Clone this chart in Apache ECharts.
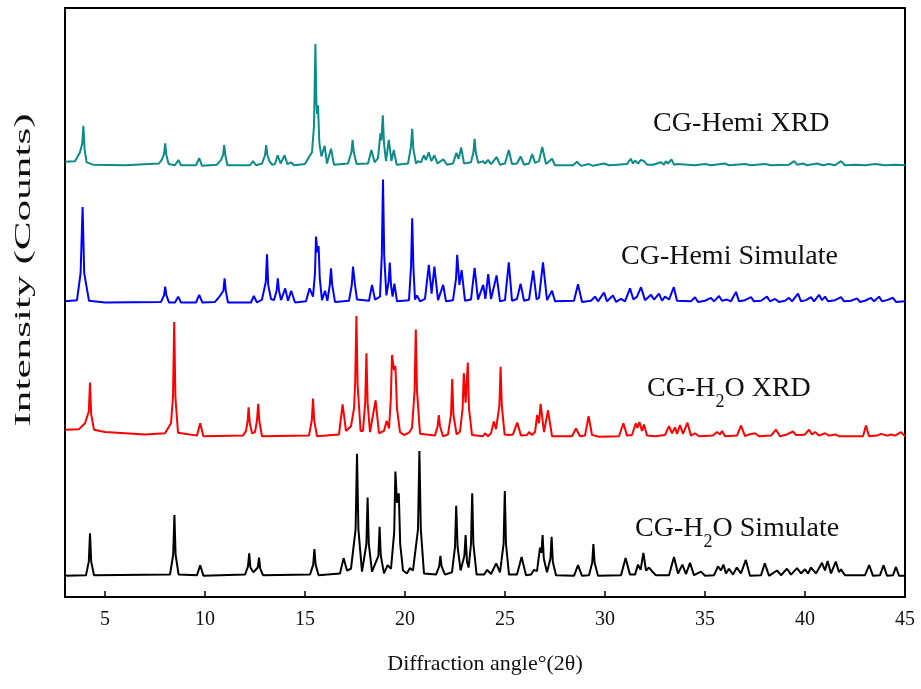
<!DOCTYPE html>
<html><head><meta charset="utf-8">
<script src="https://cdn.jsdelivr.net/npm/echarts@6/dist/echarts.min.js"></script>
<style>html,body{margin:0;padding:0;background:#fff}#c{width:921px;height:689px}</style>
</head><body><div id="c"></div>
<script>
// X tick labels
var xTicks = [5, 10, 15, 20, 25, 30, 35, 40, 45];
var seriesNames = ['CG-Hemi XRD', 'CG-Hemi Simulate', 'CG-H2O XRD', 'CG-H2O Simulate'];

// CG-H2O Simulate (black)
var h2oSim = [[3,3.6],[4.05,3.7],[4.19,6.0],[4.25,10.8],[4.31,6.0],[4.45,3.7],
[8.25,3.8],[8.41,7.2],[8.47,13.9],[8.53,7.2],[8.68,3.8],
[9.6,3.7],[9.76,5.4],[9.92,3.6],
[12.0,3.8],[12.15,5.2],[12.21,7.4],[12.27,5.0],[12.42,4.2],[12.64,5.0],[12.70,6.7],[12.76,4.8],[12.9,3.7],
[15.25,3.8],[15.41,5.5],[15.47,8.15],[15.53,5.5],[15.68,3.7],
[16.75,4.0],[16.93,6.6],[17.1,4.5],[17.3,4.8],[17.53,11.5],[17.6,24.3],[17.67,11.5],[17.85,4.3],
[18.07,9.0],[18.13,16.9],[18.19,9.0],[18.35,4.3],[18.67,7.0],[18.73,11.9],[18.79,7.0],[18.95,4.0],[19.13,5.4],[19.3,4.8],[19.46,11.0],[19.52,21.3],[19.6,16.0],[19.69,17.6],[19.76,9.0],[19.9,4.5],[20.1,4.0],[20.24,4.9],[20.4,4.5],[20.65,11.5],[20.72,24.8],[20.79,11.5],[20.95,4.0],
[21.55,3.8],[21.71,5.2],[21.77,7.0],[21.83,5.2],[22.0,3.8],
[22.35,4.2],[22.5,8.5],[22.56,15.5],[22.63,8.5],[22.78,4.5],[22.97,7.0],[23.03,10.5],[23.1,6.0],[23.18,5.0],[23.3,9.0],[23.36,17.6],[23.42,9.0],[23.58,3.8],
[23.95,3.8],[24.11,4.6],[24.3,3.9],[24.56,5.7],[24.75,4.2],[24.93,9.0],[24.99,18.0],[25.05,9.0],[25.2,3.8],
[25.6,3.8],[25.83,6.8],[26.05,3.7],[26.3,3.8],[26.45,4.6],[26.6,4.4],[26.75,8.4],[26.82,7.5],[26.88,10.5],[26.94,6.5],[27.1,4.2],[27.27,6.5],[27.33,10.2],[27.39,6.0],[27.55,3.7],
[28.45,3.6],[28.65,5.4],[28.85,3.6],
[29.2,3.7],[29.36,5.8],[29.42,9.0],[29.48,5.8],[29.65,3.6],
[30.8,3.7],[31.03,6.6],[31.25,3.8],[31.5,3.8],[31.65,5.5],[31.78,4.6],[31.92,7.5],[32.05,4.5],[32.2,5.0],[32.4,4.2],[32.55,3.7],
[33.2,3.7],[33.45,6.8],[33.65,4.0],[33.87,5.5],[34.05,3.9],[34.25,5.8],[34.45,3.7],[34.8,4.3],[35.0,3.6],
[35.45,3.7],[35.65,5.2],[35.8,4.5],[35.92,5.5],[36.05,4.0],[36.2,4.8],[36.4,3.8],[36.59,5.0],[36.8,4.0],[37.04,6.3],[37.25,3.6],
[37.8,3.7],[37.99,5.7],[38.2,3.6],[38.6,4.5],[38.8,3.7],[39.1,4.8],[39.3,3.8],[39.6,4.9],[39.8,4.0],[40.0,4.7],[40.15,4.0],[40.3,5.0],[40.55,4.0],[40.85,5.8],[41.0,4.5],[41.13,6.1],[41.3,4.0],[41.54,6.0],[41.7,4.2],[41.8,4.7],[42.0,3.7],
[43.0,3.7],[43.21,5.4],[43.4,3.6],[43.75,3.7],[43.93,5.4],[44.1,3.6],[44.4,3.7],[44.55,5.1],[44.7,3.6],[45,3.6]];

// CG-H2O XRD (red)
var h2oXrd = [[3,28.4],[3.7,28.5],[4.0,29.5],[4.19,31.5],[4.25,36.4],[4.31,31.0],[4.45,28.4],[5,28.0],[7,27.6],[8.0,27.8],[8.3,29.5],[8.4,34.0],[8.46,46.7],[8.52,34.0],[8.65,27.9],[9.6,27.4],[9.76,29.5],[9.92,27.3],
[11.9,27.4],[12.05,28.2],[12.13,29.8],[12.18,32.2],[12.24,29.5],[12.35,27.8],[12.5,28.0],[12.6,30.0],[12.66,32.8],[12.72,29.8],[12.85,27.3],
[15.2,27.4],[15.34,30.0],[15.4,33.7],[15.46,30.0],[15.6,27.3],
[16.7,27.6],[16.88,32.7],[17.05,28.2],[17.3,29.0],[17.45,32.0],[17.51,36.5],[17.57,47.7],[17.63,36.0],[17.78,28.2],[17.9,28.2],[18.01,33.0],[18.07,41.4],[18.13,33.0],[18.25,28.0],[18.35,27.9],[18.53,33.4],[18.7,27.8],[18.95,28.2],[19.08,29.9],[19.2,28.6],[19.29,33.5],[19.35,41.1],[19.45,38.5],[19.52,39.2],[19.6,32.0],[19.75,28.0],[19.95,27.5],[20.2,27.9],[20.35,28.7],[20.48,35.0],[20.54,45.4],[20.6,35.0],[20.75,27.7],
[21.5,27.4],[21.63,29.0],[21.69,30.9],[21.75,29.0],[21.9,27.3],[22.15,27.6],[22.3,31.0],[22.36,37.0],[22.42,31.0],[22.58,27.6],[22.75,28.1],[22.88,32.0],[22.94,38.0],[23.03,33.0],[23.14,39.8],[23.2,32.0],[23.35,27.5],
[23.9,27.3],[24.0,27.8],[24.15,27.3],[24.3,27.8],[24.44,29.8],[24.55,28.5],[24.72,32.5],[24.78,39.1],[24.84,32.5],[24.98,27.6],[25.2,27.5],[25.4,27.6],[25.61,29.6],[25.8,27.4],[26.1,27.5],[26.2,28.0],[26.35,27.5],[26.5,28.0],[26.61,30.9],[26.7,29.5],[26.78,32.8],[26.95,28.0],[27.15,31.7],[27.35,27.3],
[28.35,27.3],[28.55,28.6],[28.75,27.3],[29.0,27.4],[29.18,30.7],[29.35,27.5],[29.5,27.4],[29.7,27.2],
[30.7,27.3],[30.92,29.5],[31.1,27.4],[31.35,27.5],[31.54,29.5],[31.62,28.7],[31.72,29.7],[31.85,28.2],[31.95,29.3],[32.1,27.4],[32.5,27.3],
[33.0,27.5],[33.2,29.0],[33.35,27.8],[33.5,28.8],[33.6,27.7],[33.75,29.2],[33.9,27.7],[34.12,29.6],[34.3,27.4],[34.5,27.8],[34.7,27.3],
[35.4,27.4],[35.6,28.0],[35.75,27.6],[35.85,28.2],[36.0,27.3],[36.6,27.4],[36.8,29.1],[37.0,27.3],[37.2,27.6],[37.5,27.8],[37.7,27.3],[38.3,27.4],[38.55,28.4],[38.75,27.3],[39.1,27.6],[39.4,28.1],[39.55,27.5],[39.8,27.5],[40.0,27.6],[40.2,28.4],[40.35,27.6],[40.5,28.0],[40.7,27.4],[41.0,27.8],[41.2,27.4],[41.5,27.6],[41.7,27.3],[42.3,27.3],[42.9,27.3],[43.05,29.1],[43.2,27.3],[43.6,27.4],[43.8,27.7],[44.1,27.4],[44.3,27.6],[44.5,27.4],[44.8,28.0],[45,27.3]];

// CG-Hemi Simulate (blue)
var hemiSim = [[3,50.2],[3.6,50.4],[3.78,55.0],[3.88,66.2],[3.96,55.0],[4.2,50.3],[5,50.0],[7.8,50.1],[7.95,51.2],[8.01,52.7],[8.07,51.2],[8.2,50.0],[8.5,50.0],[8.66,51.0],[8.8,50.0],[9.55,50.0],[9.71,51.3],[9.87,50.0],[10.5,50.1],[10.7,50.9],[10.8,50.6],[10.92,52.0],[10.98,54.1],[11.04,52.0],[11.15,50.0],
[12.3,50.0],[12.44,51.1],[12.6,50.0],[12.85,50.5],[13.04,53.5],[13.1,58.2],[13.16,53.0],[13.3,50.6],[13.45,50.4],[13.58,52.0],[13.64,54.1],[13.7,52.0],[13.8,50.4],[14.01,52.4],[14.15,50.3],[14.31,52.0],[14.5,50.0],
[15.05,50.2],[15.23,52.4],[15.4,51.0],[15.5,55.0],[15.55,61.2],[15.62,58.5],[15.68,59.6],[15.74,54.0],[15.85,50.4],[16.0,52.0],[16.12,50.3],[16.24,53.0],[16.30,55.8],[16.36,53.0],[16.5,50.1],
[17.2,50.3],[17.34,53.0],[17.40,56.1],[17.5,53.0],[17.6,50.5],
[18.2,50.3],[18.35,53.0],[18.5,50.5],[18.75,51.0],[18.84,58.0],[18.9,70.9],[18.96,58.0],[19.07,51.2],[19.18,53.5],[19.24,56.8],[19.3,53.0],[19.38,51.0],[19.47,53.2],[19.6,50.2],
[20.2,50.4],[20.3,56.0],[20.36,64.3],[20.42,56.0],[20.5,50.5],[20.6,51.2],[20.75,50.2],[21.0,50.6],[21.19,56.4],[21.33,51.5],[21.47,56.1],[21.65,50.4],[21.91,53.0],[22.05,50.2],[22.4,50.4],[22.55,54.0],[22.61,58.1],[22.72,53.0],[22.83,55.5],[23.0,50.3],[23.3,50.5],[23.48,55.9],[23.65,50.5],[23.91,53.0],[24.02,50.6],[24.16,54.8],[24.3,50.6],[24.58,54.6],[24.75,50.2],[25.0,50.4],[25.19,56.8],[25.35,50.3],[25.6,50.6],[25.78,53.2],[25.95,50.3],[26.2,50.5],[26.41,55.4],[26.58,50.5],[26.7,50.8],[26.9,56.8],[27.1,50.4],[27.35,52.0],[27.5,50.2],
[28.45,50.3],[28.65,53.1],[28.85,50.1],[29.3,50.3],[29.5,51.0],[29.65,50.2],[29.95,51.7],[30.1,50.2],[30.4,51.2],[30.55,50.1],[30.8,50.6],[31.0,50.2],[31.25,52.4],[31.42,50.5],[31.6,51.0],[31.8,52.6],[32.0,50.4],[32.3,51.3],[32.45,50.5],[32.7,51.5],[32.85,50.3],[33.0,51.0],[33.2,50.5],[33.44,52.6],[33.6,50.3],
[34.3,50.2],[34.5,50.9],[34.65,50.1],[35.0,50.3],[35.3,50.8],[35.45,50.2],[35.7,51.1],[35.85,50.3],[36.1,50.5],[36.3,50.2],[36.55,51.8],[36.7,50.2],[37.0,50.4],[37.3,50.9],[37.45,50.2],[37.8,50.3],[38.1,51.0],[38.25,50.2],[38.5,50.6],[38.7,50.1],[39.0,50.3],[39.2,50.8],[39.35,50.2],[39.65,51.5],[39.8,50.2],[40.05,50.4],[40.3,50.9],[40.45,50.2],[40.7,51.3],[40.85,50.4],[41.0,51.0],[41.15,50.2],[41.5,50.4],[41.8,50.9],[41.95,50.2],[42.3,50.3],[42.6,50.7],[42.75,50.1],[43.0,50.3],[43.3,50.8],[43.45,50.2],[43.7,51.0],[43.85,50.2],[44.1,50.4],[44.4,50.8],[44.55,50.1],[45,50.2]];

// CG-Hemi XRD (teal)
var hemiXrd = [[3,73.9],[3.5,74.0],[3.75,75.5],[3.86,77.0],[3.92,80.0],[3.98,76.0],[4.08,73.8],[4.4,73.4],[6,73.3],[7.7,73.6],[7.85,74.3],[7.95,75.2],[8.01,77.0],[8.07,75.0],[8.18,73.5],[8.5,73.3],[8.67,74.2],[8.8,73.3],[9.55,73.3],[9.71,74.5],[9.85,73.2],[10.6,73.4],[10.8,74.2],[10.9,75.0],[10.96,76.7],[11.02,75.0],[11.12,73.3],[12.25,73.3],[12.4,74.0],[12.55,73.3],[12.85,73.6],[13.0,75.0],[13.06,76.7],[13.12,75.0],[13.22,74.0],[13.35,73.4],[13.5,73.5],[13.63,75.0],[13.78,73.6],[13.98,75.0],[14.12,73.5],[14.3,73.8],[14.45,73.3],[15.0,73.5],[15.2,74.7],[15.35,75.5],[15.45,80.0],[15.52,93.9],[15.57,84.0],[15.6,82.0],[15.65,83.5],[15.72,77.0],[15.82,74.8],[15.9,74.5],[15.98,76.6],[16.1,73.6],[16.3,76.1],[16.45,73.4],[17.15,73.6],[17.32,75.5],[17.38,77.6],[17.44,75.5],[17.58,73.5],[18.15,73.6],[18.32,75.9],[18.48,73.8],[18.65,74.5],[18.77,78.7],[18.82,77.5],[18.89,81.8],[18.95,77.0],[19.05,74.0],[19.19,77.6],[19.32,74.0],[19.44,75.9],[19.58,73.4],[20.15,73.6],[20.3,76.5],[20.36,79.5],[20.42,76.0],[20.55,73.6],[20.65,74.0],[20.8,73.8],[20.94,75.0],[21.05,74.2],[21.19,75.5],[21.32,74.0],[21.47,75.0],[21.62,73.6],[21.91,74.3],[22.1,73.4],[22.4,73.6],[22.57,75.4],[22.68,74.4],[22.81,76.3],[22.95,73.6],[23.3,73.8],[23.42,75.5],[23.48,77.8],[23.54,75.5],[23.66,73.7],[23.9,74.0],[24.0,73.6],[24.15,74.2],[24.3,73.5],[24.58,74.7],[24.75,73.4],[25.0,73.6],[25.19,75.9],[25.35,73.5],[25.6,73.6],[25.78,74.8],[25.95,73.4],[26.2,73.6],[26.36,75.2],[26.5,73.7],[26.7,74.0],[26.86,76.4],[27.05,73.5],[27.35,74.4],[27.5,73.3],[28.4,73.3],[28.6,73.9],[28.8,73.2],[29.2,73.5],[29.4,73.2],[29.95,73.6],[30.2,73.3],[30.6,73.4],[31.1,73.5],[31.29,74.4],[31.4,73.6],[31.5,74.1],[31.65,73.6],[31.8,74.2],[31.95,74.0],[32.1,73.4],[32.4,73.4],[32.8,73.8],[32.95,73.4],[33.04,74.0],[33.15,73.6],[33.32,74.3],[33.45,73.4],[33.6,73.5],[34.5,73.3],[35.0,73.5],[35.3,73.3],[36.0,73.6],[36.2,73.3],[37.0,73.5],[37.3,73.3],[38.0,73.5],[38.3,73.3],[39.2,73.4],[39.46,74.0],[39.6,73.4],[39.9,73.6],[40.1,73.3],[40.6,73.6],[40.9,73.3],[41.2,73.5],[41.5,73.3],[41.8,74.0],[42.0,73.3],[42.5,73.4],[43.0,73.3],[43.5,73.5],[44.0,73.3],[44.5,73.4],[45,73.3]];

var chart = echarts.init(document.getElementById('c'), null, {renderer: 'canvas'});
var serif = '"Liberation Serif", "Times New Roman", serif';
function mk(name, data, color) {
  return {name: name, type: 'line', data: data, showSymbol: false, symbol: 'none',
    lineStyle: {color: color, width: 2}, itemStyle: {color: color}, animation: false, silent: true};
}
var rich = {
  a: {fontFamily: serif, fontSize: 28, color: '#111', lineHeight: 44, verticalAlign: 'middle'},
  s: {fontFamily: serif, fontSize: 18, color: '#111', lineHeight: 18, verticalAlign: 'bottom'}
};
function lab(x, y, text) {
  return {type: 'text', left: x, top: y, silent: true,
    style: {text: text, rich: rich, fill: '#111'}};
}
chart.setOption({
  backgroundColor: '#fff',
  animation: false,
  grid: {left: 65, right: 16, top: 8, bottom: 92, show: true, borderColor: '#000', borderWidth: 2, backgroundColor: 'transparent'},
  xAxis: {type: 'value', min: 3, max: 45,
    name: 'Diffraction angle°(2θ)', nameLocation: 'middle', nameGap: 56,
    nameTextStyle: {fontFamily: serif, fontSize: 22, color: '#111'},
    axisLine: {show: true, lineStyle: {color: '#000', width: 2}},
    axisTick: {show: true, inside: true, length: 6, customValues: xTicks, lineStyle: {color: '#000', width: 1.5}},
    axisLabel: {customValues: xTicks, fontFamily: serif, fontSize: 20, color: '#111', margin: 13},
    splitLine: {show: false}},
  yAxis: {type: 'value', min: 0, max: 100,
    axisLine: {show: true, lineStyle: {color: '#000', width: 2}},
    axisTick: {show: false}, axisLabel: {show: false}, splitLine: {show: false}},
  series: [
    mk(seriesNames[0], hemiXrd, '#0b8c88'),
    mk(seriesNames[1], hemiSim, '#0000ff'),
    mk(seriesNames[2], h2oXrd, '#ff0000'),
    mk(seriesNames[3], h2oSim, '#000000')
  ],
  graphic: [
    lab(653, 110, '{a|CG-Hemi XRD}'),
    lab(621, 243, '{a|CG-Hemi Simulate}'),
    lab(647, 375, '{a|CG-H}{s|2}{a|O XRD}'),
    lab(635, 515, '{a|CG-H}{s|2}{a|O Simulate}'),
    {type: 'text', x: 24, y: 270, rotation: Math.PI / 2, scaleX: 1.8, scaleY: 1, silent: true,
      style: {text: 'Intensity (Counts)', fontFamily: serif, fontSize: 24, fill: '#111',
        align: 'center', verticalAlign: 'middle'}}
  ]
});
</script></body></html>
